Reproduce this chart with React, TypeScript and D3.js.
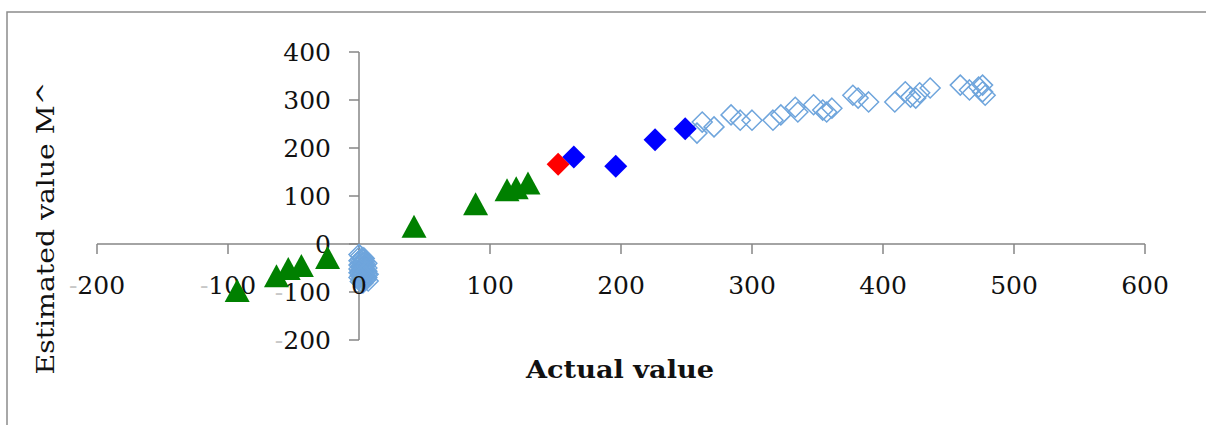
import { useEffect, useRef } from "react";
import * as d3 from "d3";

// green triangles
const triX = [-93, -63, -54, -44, -24, 42, 89, 113, 120, 129];
const triY = [-98, -67, -52, -46, -29, 36, 83, 112, 116, 126];
// red diamond
const redX = [152];
const redY = [166];
// blue filled diamonds
const blueX = [164, 196, 226, 249];
const blueY = [181, 162, 217, 240];
// light blue hollow diamonds (dense group near x = 0, then the upper run)
const openX = [1, 2, 0, 3, 1, 4, 2, 0, 5, 3, 1, 6, 2, 4, 0, 3, 5, 1, 2, 4, 6, 3,
  0, 1, 2, 3, 4, 5, 6, 7, 0, 2, 4, 6, 1, 3, 5, 7, 2, 4, 1, 3, 5, 0, 6,
  258, 262, 271, 284, 291, 300, 316, 322, 333, 335, 347, 354, 357, 361, 377, 381, 389,
  409, 417, 421, 425, 428, 436, 459, 466, 473, 476, 478, 476];
const openY = [-25, -30, -35, -38, -42, -45, -48, -52, -55, -58, -60, -62, -65, -68, -70, -72, -75, -78, -80, -50, -40, -28,
  -22, -33, -40, -46, -53, -60, -70, -77, -44, -57, -37, -50, -66, -81, -43, -63, -73, -30, -55, -64, -68, -60, -57,
  231, 254, 244, 269, 258, 258, 258, 269, 285, 275, 290, 279, 275, 283, 310, 304, 296,
  296, 317, 306, 304, 315, 325, 331, 321, 327, 317, 310, 331];

const xTicks = [-200, -100, 0, 100, 200, 300, 400, 500, 600];
const yTicks = [-200, -100, 0, 100, 200, 300, 400];

export default function App() {
  const svgRef = useRef<SVGSVGElement>(null);

  useEffect(() => {
    if (!svgRef.current) return;
    const svg = d3.select(svgRef.current);
    svg.selectAll("*").remove();
    const font = "'DejaVu Serif', serif";
    const axisColor = "#868686";

    const x = d3.scaleLinear().domain([-200, 600]).range([97, 1145]);
    const y = d3.scaleLinear().domain([-200, 400]).range([340, 52]);

    // chart frame
    svg.append("rect")
      .attr("x", 7).attr("y", 12)
      .attr("width", 1250).attr("height", 450)
      .attr("fill", "white")
      .attr("stroke", "#8c8c8c")
      .attr("stroke-width", 1.5);

    // axes crossing at zero
    const gx = svg.append("g").attr("transform", `translate(0,${y(0)})`);
    gx.append("line")
      .attr("x1", x(-200)).attr("x2", x(600))
      .attr("stroke", axisColor).attr("stroke-width", 1.5);
    gx.selectAll("line.tick").data(xTicks).enter().append("line")
      .attr("x1", d => x(d)).attr("x2", d => x(d))
      .attr("y1", 0).attr("y2", 10)
      .attr("stroke", axisColor).attr("stroke-width", 1.5);

    const gy = svg.append("g").attr("transform", `translate(${x(0)},0)`);
    gy.append("line")
      .attr("y1", y(-200)).attr("y2", y(400))
      .attr("stroke", axisColor).attr("stroke-width", 1.5);
    gy.selectAll("line.tick").data(yTicks).enter().append("line")
      .attr("y1", d => y(d)).attr("y2", d => y(d))
      .attr("x1", -10).attr("x2", 0)
      .attr("stroke", axisColor).attr("stroke-width", 1.5);

    const diamond = (r: number) => `M0,${-r}L${r},0L0,${r}L${-r},0Z`;
    const triangle = "M0,-12L12.5,11L-12.5,11Z";

    // hollow diamonds first so the "0" labels still show over them
    const open = d3.zip(openX, openY);
    svg.append("g").selectAll("path").data(open).enter().append("path")
      .attr("transform", d => `translate(${x(d[0])},${y(d[1])})`)
      .attr("d", diamond(10))
      .attr("fill", "none")
      .attr("stroke", "#6fa5dc")
      .attr("stroke-width", 1.5);

    // tick labels, minus drawn faint like in the source
    const label = (t: d3.Selection<SVGTextElement, number, any, any>) => {
      t.append("tspan").attr("fill", "#c8c8c8").text(d => (d < 0 ? "-" : ""));
      t.append("tspan").text(d => Math.abs(d));
    };
    svg.append("g").selectAll("text").data(xTicks).enter().append("text")
      .attr("x", d => x(d))
      .attr("y", y(0) + 50)
      .attr("text-anchor", "middle")
      .attr("font-family", font).attr("font-size", 25).attr("fill", "#111")
      .call(label);
    svg.append("g").selectAll("text").data(yTicks).enter().append("text")
      .attr("x", x(0) - 28)
      .attr("y", d => y(d) + 9)
      .attr("text-anchor", "end")
      .attr("font-family", font).attr("font-size", 25).attr("fill", "#111")
      .call(label);

    // axis titles
    svg.append("text")
      .attr("x", 620).attr("y", 378)
      .attr("text-anchor", "middle")
      .attr("font-family", font).attr("font-size", 25).attr("font-weight", "bold")
      .attr("fill", "#111")
      .attr("textLength", 188).attr("lengthAdjust", "spacingAndGlyphs")
      .text("Actual value");
    svg.append("text")
      .attr("transform", "translate(54,228) rotate(-90)")
      .attr("text-anchor", "middle")
      .attr("font-family", font).attr("font-size", 25)
      .attr("fill", "#111")
      .attr("textLength", 293).attr("lengthAdjust", "spacingAndGlyphs")
      .text("Estimated value M^");

    svg.append("g").selectAll("path").data(d3.zip(triX, triY)).enter().append("path")
      .attr("transform", d => `translate(${x(d[0])},${y(d[1])})`)
      .attr("d", triangle)
      .attr("fill", "#008000");

    svg.append("g").selectAll("path").data(d3.zip(redX, redY)).enter().append("path")
      .attr("transform", d => `translate(${x(d[0])},${y(d[1])})`)
      .attr("d", diamond(11.5))
      .attr("fill", "#ff0000");

    svg.append("g").selectAll("path").data(d3.zip(blueX, blueY)).enter().append("path")
      .attr("transform", d => `translate(${x(d[0])},${y(d[1])})`)
      .attr("d", diamond(11.5))
      .attr("fill", "#0000ff");
  }, []);

  return (
    <div style={{ position: "absolute", left: 0, top: 0 }}>
      <svg ref={svgRef} width={1206} height={425} style={{ display: "block" }}></svg>
    </div>
  );
}
